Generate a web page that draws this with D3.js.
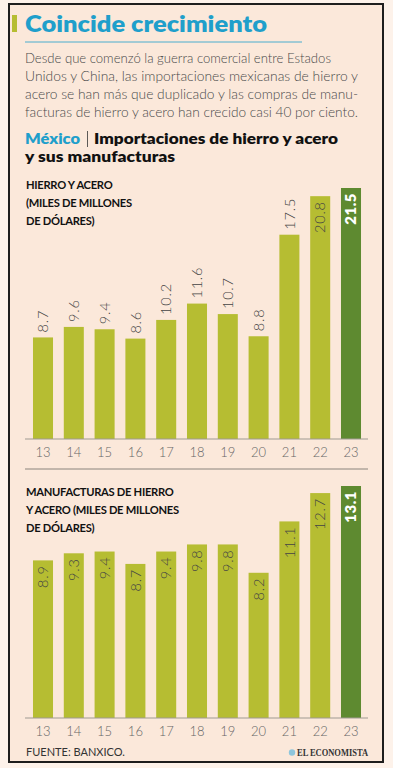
<!DOCTYPE html>
<html><head><meta charset="utf-8">
<script src="https://cdn.jsdelivr.net/npm/d3@7"></script>
<style>
html,body{margin:0;padding:0;background:#fdf2ea;}
svg{display:block;}
</style></head>
<body>
<svg id="c" width="393" height="768"></svg>
<script>
const years = ["13","14","15","16","17","18","19","20","21","22","23"];
const hierroAcero = [8.7, 9.6, 9.4, 8.6, 10.2, 11.6, 10.7, 8.8, 17.5, 20.8, 21.5];
const manufacturas = [8.9, 9.3, 9.4, 8.7, 9.4, 9.8, 9.8, 8.2, 11.1, 12.7, 13.1];
const titleText = "Coincide crecimiento";
const bodyLines = [
  "Desde que comenzó la guerra comercial entre Estados",
  "Unidos y China, las importaciones mexicanas de hierro y",
  "acero se han más que duplicado y las compras de manu-",
  "facturas de hierro y acero han crecido casi 40 por ciento."
];
const headingCountry = "México";
const headingLine1 = "Importaciones de hierro y acero";
const headingLine2 = "y sus manufacturas";
const chart1Title = ["HIERRO Y ACERO", "(MILES DE MILLONES", "DE DÓLARES)"];
const chart2Title = ["MANUFACTURAS DE HIERRO", "Y ACERO (MILES DE MILLONES", "DE DÓLARES)"];
const sourceText = "FUENTE: BANXICO.";
const brandText = "EL ECONOMISTA";

const BG = "#fbe8da", TEAL = "#1f9fcb", LIGHT = "#b6bd32", DARK = "#5e8a30";
const FONT = "Lato, 'Open Sans', sans-serif";
const svg = d3.select("#c");

// panel + frame
svg.append("rect").attr("x",9).attr("y",4).attr("width",374).attr("height",758)
  .attr("fill",BG).attr("stroke","#1e1e1e").attr("stroke-width",2);

// title
svg.append("rect").attr("x",12).attr("y",15).attr("width",5).attr("height",17).attr("fill",LIGHT);
svg.append("text").attr("x",25).attr("y",32).text(titleText)
  .attr("font-family",FONT).attr("font-weight",800).attr("font-size",23).attr("fill",TEAL)
  .attr("textLength",242).attr("lengthAdjust","spacingAndGlyphs");
svg.append("line").attr("x1",25).attr("x2",302).attr("y1",42).attr("y2",42)
  .attr("stroke",TEAL).attr("stroke-width",0.8);

// body
bodyLines.forEach((l,i)=>{
  const t = svg.append("text").attr("x",25).attr("y",63+i*18).text(l)
    .attr("font-family",FONT).attr("font-weight",300).attr("font-size",14.2).attr("fill","#4a4a4a");
  const w = [306,333,333,333][i];
  t.attr("textLength",w).attr("lengthAdjust","spacingAndGlyphs");
});

// heading
svg.append("text").attr("x",25).attr("y",144).text(headingCountry)
  .attr("font-family",FONT).attr("font-weight",800).attr("font-size",15).attr("fill",TEAL)
  .attr("textLength",55).attr("lengthAdjust","spacingAndGlyphs");
svg.append("line").attr("x1",87.5).attr("x2",87.5).attr("y1",131).attr("y2",147)
  .attr("stroke","#333").attr("stroke-width",0.8);
svg.append("text").attr("x",94).attr("y",144).text(headingLine1)
  .attr("font-family",FONT).attr("font-weight",800).attr("font-size",15).attr("fill","#111")
  .attr("textLength",244).attr("lengthAdjust","spacingAndGlyphs");
svg.append("text").attr("x",25).attr("y",162.3).text(headingLine2)
  .attr("font-family",FONT).attr("font-weight",800).attr("font-size",15).attr("fill","#111")
  .attr("textLength",150).attr("lengthAdjust","spacingAndGlyphs");

const x = d3.scaleBand().domain(years).range([27.6,366.4]).paddingInner(0.35).paddingOuter(0.175);

function chart(data, titleLines, titleY, yBase, yTop, insideFrom, separator) {
  const y = d3.scaleLinear().domain([0, d3.max(data)]).range([yBase, yTop]);
  const g = svg.append("g");
  titleLines.forEach((l,i)=>{
    g.append("text").attr("x",26).attr("y",titleY+i*18).text(l)
      .attr("font-family",FONT).attr("font-weight",700).attr("font-size",11.2)
      .attr("letter-spacing",-0.3).attr("fill","#111");
  });
  const last = data.length-1;
  g.selectAll("rect.bar").data(data).join("rect").attr("class","bar")
    .attr("x",(d,i)=>x(years[i])).attr("width",x.bandwidth())
    .attr("y",d=>y(d)).attr("height",d=>yBase-y(d))
    .attr("fill",(d,i)=>i===last?DARK:LIGHT);
  // axis
  const ax = g.append("g").attr("transform",`translate(0,${yBase})`)
    .call(d3.axisBottom(x).tickSize(0).tickPadding(9));
  ax.select(".domain").remove();
  g.append("line").attr("x1",25).attr("x2",368).attr("y1",yBase).attr("y2",yBase)
    .attr("stroke","#a09a92").attr("stroke-width",1.2);
  ax.selectAll("text").attr("font-family",FONT).attr("font-weight",300)
    .attr("font-size",13).attr("fill","#666");
  // labels
  g.selectAll("text.lab").data(data).join("text").attr("class","lab")
    .attr("transform",(d,i)=>{
      const cx = x(years[i]) + x.bandwidth()/2;
      const inside = i>=insideFrom;
      return `translate(${cx},${inside ? y(d)+5 : y(d)-5}) rotate(-90)`;
    })
    .attr("text-anchor",(d,i)=> i>=insideFrom ? "end" : "start")
    .attr("dy","0.36em")
    .attr("font-family",FONT)
    .attr("font-weight",(d,i)=>i===last?800:300)
    .attr("font-size",(d,i)=>i===last?15:14.5)
    .attr("letter-spacing",(d,i)=>i===last?0.5:0.8)
    .attr("fill",(d,i)=>i===last?"#fff":"#444")
    .text(d=>d.toFixed(1));
  if (separator) {
    svg.append("line").attr("x1",25).attr("x2",368).attr("y1",separator).attr("y2",separator)
      .attr("stroke","#8a847c").attr("stroke-width",1);
  }
}

chart(hierroAcero, chart1Title, 189, 439, 188, 9, 469);
chart(manufacturas, chart2Title, 496, 718, 486, 0, null);

// footer
svg.append("text").attr("x",26).attr("y",756).text(sourceText)
  .attr("font-family",FONT).attr("font-weight",400).attr("font-size",11).attr("fill","#333");
svg.append("circle").attr("cx",292).attr("cy",752.5).attr("r",3.2).attr("fill","#8ec6dc");
svg.append("text").attr("x",368).attr("y",756).attr("text-anchor","end").text(brandText)
  .attr("font-family","'Liberation Serif', serif").attr("font-weight",700).attr("font-size",10.5)
  .attr("fill","#333").attr("textLength",71).attr("lengthAdjust","spacingAndGlyphs");
</script>
</body></html>
